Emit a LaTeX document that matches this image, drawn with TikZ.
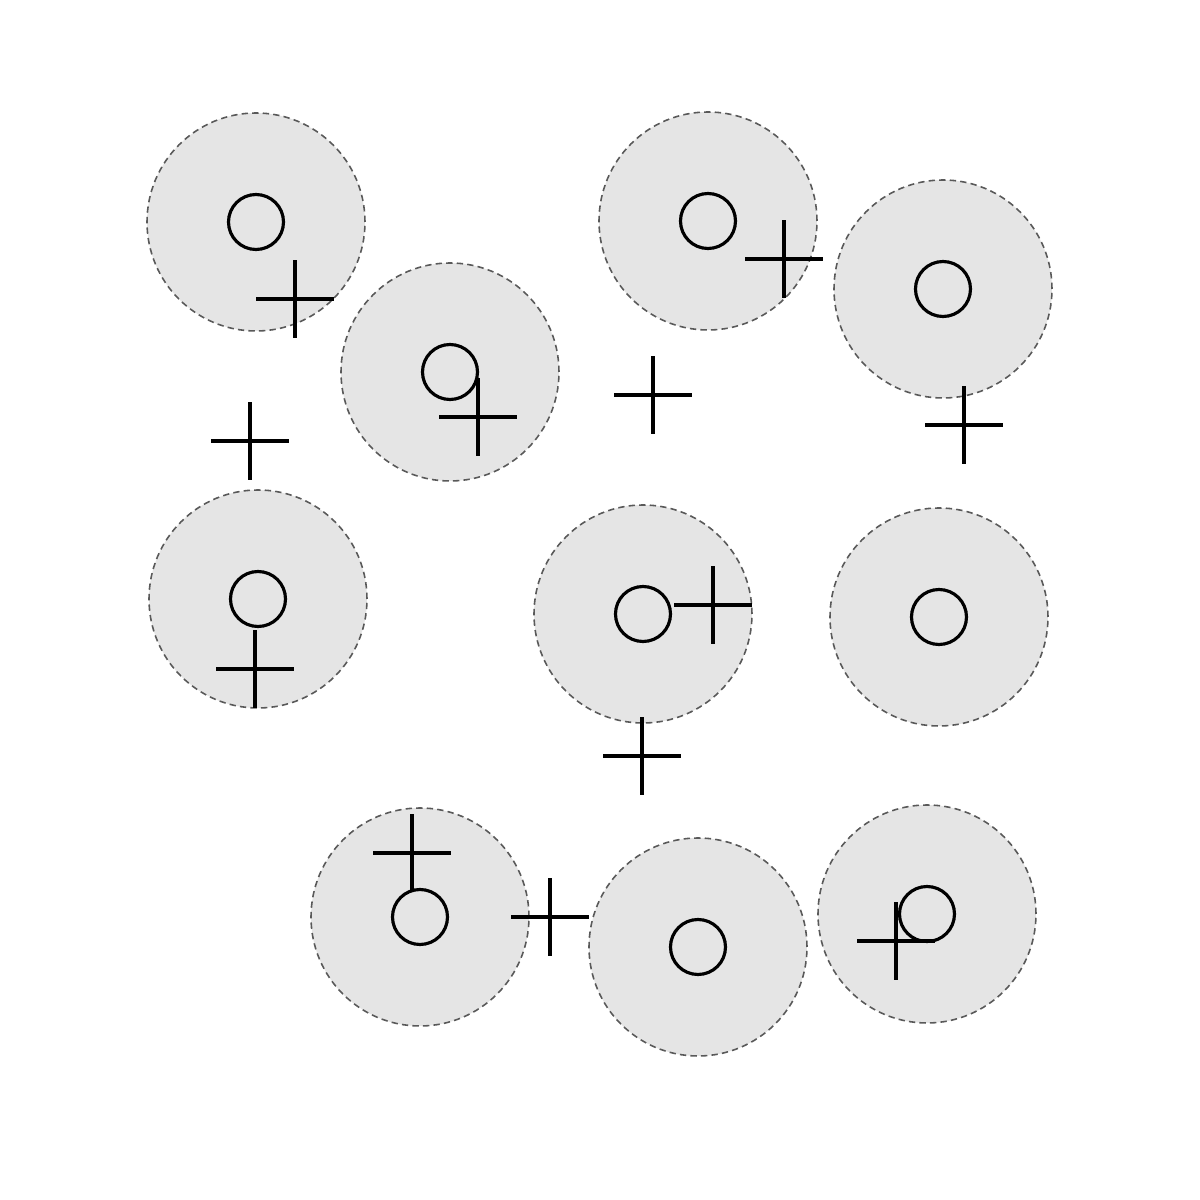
\documentclass[tikz,border=0pt]{standalone}
\usepackage{tikz}

\begin{document}
\begin{tikzpicture}[
  zone/.style={circle, minimum size=21.8mm, inner sep=0pt, fill=black!10,
               draw=black!65, line width=0.45pt, dash pattern=on 1.8pt off 1.2pt},
  core/.style={circle, minimum size=5.5mm, inner sep=0pt, draw=black, line width=0.9pt},
  plusmark/.style={draw=black, line width=0.95pt},
  plus/.pic={\draw[plusmark] (-0.39,0) -- (0.39,0) (0,-0.39) -- (0,0.39);},
]
\useasboundingbox (0,0) rectangle (12,12);
% gray zones
\node[zone] (z1) at (2.56,9.78) {};
\node[zone] (z2) at (4.50,8.28) {};
\node[zone] (z3) at (7.08,9.79) {};
\node[zone] (z4) at (9.43,9.11) {};
\node[zone] (z5) at (2.58,6.01) {};
\node[zone] (z6) at (6.43,5.86) {};
\node[zone] (z7) at (9.39,5.83) {};
\node[zone] (z8) at (4.20,2.83) {};
\node[zone] (z9) at (6.98,2.53) {};
\node[zone] (z10) at (9.27,2.86) {};
% centre markers
\node[core] (s1) at (z1) {};
\node[core] (s2) at (z2) {};
\node[core] (s3) at (z3) {};
\node[core] (s4) at (z4) {};
\node[core] (s5) at (z5) {};
\node[core] (s6) at (z6) {};
\node[core] (s7) at (z7) {};
\node[core] (s8) at (z8) {};
\node[core] (s9) at (z9) {};
\node[core] (s10) at (z10) {};
% crosses
\coordinate (p1) at (2.95,9.01);
\coordinate (p2) at (4.78,7.83);
\coordinate (p3) at (7.84,9.41);
\coordinate (p4) at (9.64,7.75);
\coordinate (p5) at (2.55,5.31);
\coordinate (p6) at (7.13,5.95);
\coordinate (p7) at (4.12,3.47);
\coordinate (p8) at (5.50,2.83);
\coordinate (p9) at (8.96,2.59);
\coordinate (p10) at (2.50,7.59);
\coordinate (p11) at (6.53,8.05);
\coordinate (p12) at (6.42,4.44);
\foreach \p in {p1,p2,p3,p4,p5,p6,p7,p8,p9,p10,p11,p12}
  \pic at (\p) {plus};
\end{tikzpicture}
\end{document}
